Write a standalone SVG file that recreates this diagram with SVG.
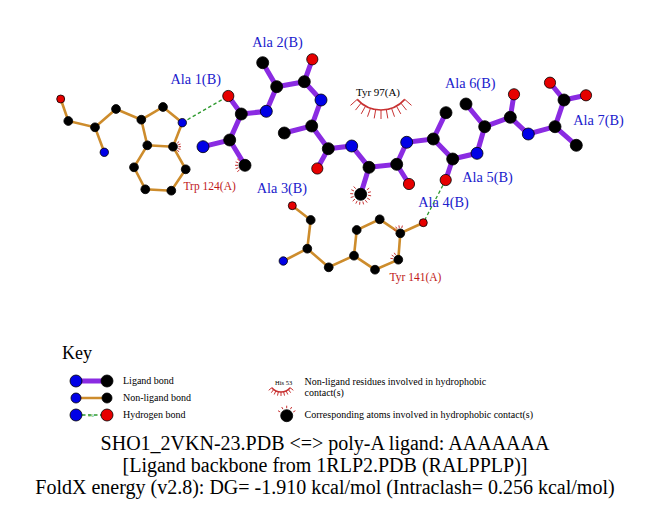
<svg xmlns="http://www.w3.org/2000/svg" width="651" height="511" viewBox="0 0 651 511">
<style>
text{font-family:"Liberation Serif","Times New Roman",serif}
.lb{stroke:#8a2be2;stroke-width:5;stroke-linecap:round;fill:none}
.nb{stroke:#cd8c2c;stroke-width:2.6;stroke-linecap:round;fill:none}
.hb{stroke:#2f9a2f;stroke-width:1.3;stroke-dasharray:3.5,2.5;fill:none}
.hp{stroke:#c83232;stroke-width:1;fill:none}
.hpa{stroke:#c83232;stroke-width:1.6;fill:none}
.C{fill:#000;stroke:#000;stroke-width:0.8}
.N{fill:#0000e6;stroke:#000;stroke-width:0.8}
.O{fill:#e60000;stroke:#000;stroke-width:0.8}
.res{fill:#2020cc;font-size:14.3px}
.nres{fill:#c01818;font-size:11.5px}
.key{fill:#000;font-size:10px}
.ttl{fill:#000;font-size:20px;text-anchor:middle}
</style>
<rect width="651" height="511" fill="#fff"/>
<g id="connectors">
<!-- ligand bonds -->
<path class="lb" d="M203,146.7 L229.7,140 L245,165.3 M229.7,140 L241.3,114 L228.3,96 M241.3,114 L266.3,111.3 L276.7,86.7 L262.7,62.7 M276.7,86.7 L304.3,81.7 L312.3,59.3 M304.3,81.7 L321,100 L311.7,126 L284.3,133 M311.7,126 L328.3,148.7 L317.3,168.5 M328.3,148.7 L351.7,146 L369,167.3 L360.7,194.3 M369,167.3 L396.7,164.3 L409,184 M396.7,164.3 L406.7,142.3 L433.3,139 L446,112.7 M433.3,139 L452.7,159 L445.7,180 M452.7,159 L477,153.3 L484.7,126.7 L466,104 M484.7,126.7 L510.3,117.3 L514,94.3 M510.3,117.3 L528.3,134 L555,126.7 L576.3,145.3 M555,126.7 L564,100 L550,82.7 M564,100 L586,95.3"/>
<!-- Trp 124 bonds -->
<path class="nb" d="M60.7,99 L68.3,121 L95,127.3 L104.3,152.3 M95,127.3 L116,109 L141.3,119.7 L163,107 L182.3,122.7 L173,146.7 L147.3,145.3 L141.3,119.7 M147.3,145.3 L134,167.3 L145.3,189.3 L171.3,190.7 L185.7,169.3 L173,146.7"/>
<!-- Tyr 141 bonds -->
<path class="nb" d="M292.3,205.7 L310.7,220 L307.3,248.7 L283.3,261 M307.3,248.7 L328.7,267.3 L354,255.7 L356.7,230 L379.7,219.3 L400.3,233.3 L423.3,222.7 M400.3,233.3 L398.3,259.7 L375,269.7 L354,255.7"/>
<!-- hydrogen bonds -->
<path class="hb" d="M182.3,122.7 L228.3,96"/>
<path class="hb" d="M445.7,180 L423.3,222.7"/>
</g>
<g id="res-tyr97">
<text x="356" y="96" font-size="10" textLength="44" lengthAdjust="spacingAndGlyphs" fill="#000">Tyr 97(A)</text>
<path class="hpa" d="M404.8,99.4 A32,32 0 0 1 357.2,99.4"/>
<path class="hp" d="M404.8,99.4L411.5,105.4M400.9,103.1L406.5,110.1M396.4,106L400.8,113.9M391.5,108.2L394.5,116.7M386.3,109.6L387.8,118.4M381,110L381,119M375.7,109.6L374.2,118.4M370.5,108.2L367.5,116.7M365.6,106L361.2,113.9M361.1,103.1L355.5,110.1M357.2,99.4L350.5,105.4"/>
</g>
<g id="res-trp124">
<path class="hp" d="M177.2,143.2L179.1,141.5M178.2,144.8L180.5,144M178.5,146.7L181,146.7M178.2,148.6L180.5,149.4M177.2,150.2L179.1,151.8"/>
<circle class="O" cx="60.7" cy="99" r="4"/>
<circle class="C" cx="68.3" cy="121" r="4.4"/>
<circle class="C" cx="95" cy="127.3" r="4.4"/>
<circle class="N" cx="104.3" cy="152.3" r="4.2"/>
<circle class="C" cx="116" cy="109" r="4.4"/>
<circle class="C" cx="141.3" cy="119.7" r="4.4"/>
<circle class="C" cx="163" cy="107" r="4.4"/>
<circle class="N" cx="182.3" cy="122.7" r="4.2"/>
<circle class="C" cx="173" cy="146.7" r="4.4"/>
<circle class="C" cx="147.3" cy="145.3" r="4.4"/>
<circle class="C" cx="134" cy="167.3" r="4.4"/>
<circle class="C" cx="145.3" cy="189.3" r="4.4"/>
<circle class="C" cx="171.3" cy="190.7" r="4.4"/>
<circle class="C" cx="185.7" cy="169.3" r="4.4"/>
<text class="nres" x="183.5" y="190">Trp 124(A)</text>
</g>
<g id="res-tyr141">
<path class="hp" d="M395.5,230.6L393.4,229.3M397.1,228.8L395.7,226.7M399.3,227.9L398.9,225.4M401.7,228L402.4,225.6M392.9,258.7L390.4,258.3M393.8,256.5L391.7,255.1M395.5,254.9L394.3,252.8"/>
<circle class="O" cx="292.3" cy="205.7" r="4"/>
<circle class="C" cx="310.7" cy="220" r="4.4"/>
<circle class="C" cx="307.3" cy="248.7" r="4.4"/>
<circle class="N" cx="283.3" cy="261" r="4.2"/>
<circle class="C" cx="328.7" cy="267.3" r="4.4"/>
<circle class="C" cx="354" cy="255.7" r="4.4"/>
<circle class="C" cx="356.7" cy="230" r="4.4"/>
<circle class="C" cx="379.7" cy="219.3" r="4.4"/>
<circle class="C" cx="400.3" cy="233.3" r="4.4"/>
<circle class="O" cx="423.3" cy="222.7" r="4"/>
<circle class="C" cx="398.3" cy="259.7" r="4.4"/>
<circle class="C" cx="375" cy="269.7" r="4.4"/>
<text class="nres" x="389.5" y="280.5">Tyr 141(A)</text>
</g>
<g id="ala1">
<path class="hp" d="M239.6,169.8L237.3,171.7M238.4,167.7L235.6,168.7M238,165.3L235,165.3M238.4,162.9L235.6,161.9M239.6,160.8L237.3,158.9"/>
<circle class="N" cx="203" cy="146.7" r="6"/>
<circle class="C" cx="229.7" cy="140" r="6"/>
<circle class="C" cx="245" cy="165.3" r="6"/>
<circle class="C" cx="241.3" cy="114" r="6"/>
<circle class="O" cx="228.3" cy="96" r="5.6"/>
<text class="res" x="170.5" y="84">Ala 1(B)</text>
</g>
<g id="ala2">
<circle class="N" cx="266.3" cy="111.3" r="6"/>
<circle class="C" cx="276.7" cy="86.7" r="6"/>
<circle class="C" cx="262.7" cy="62.7" r="6"/>
<circle class="C" cx="304.3" cy="81.7" r="6"/>
<circle class="O" cx="312.3" cy="59.3" r="5.6"/>
<text class="res" x="252.3" y="47">Ala 2(B)</text>
</g>
<g id="ala3">
<circle class="N" cx="321" cy="100" r="6"/>
<circle class="C" cx="311.7" cy="126" r="6"/>
<circle class="C" cx="284.3" cy="133" r="6"/>
<circle class="C" cx="328.3" cy="148.7" r="6"/>
<circle class="O" cx="317.3" cy="168.5" r="5.6"/>
<text class="res" x="256.7" y="192.5">Ala 3(B)</text>
</g>
<g id="ala4">
<path class="hp" d="M366.8,189.9L369.2,188.1M368,192.5L370.9,191.8M368.1,195.3L371.1,195.8M367.2,198.1L369.8,199.6M365.3,200.2L367.2,202.6M362.8,201.5L363.6,204.4M359.9,201.8L359.6,204.7M357.2,200.9L355.8,203.6M355,199.1L352.7,201.1M353.6,196.6L350.7,197.5M353.2,193.8L350.2,193.6M354,191L351.3,189.7M355.7,188.7L353.7,186.5"/>
<circle class="N" cx="351.7" cy="146" r="6"/>
<circle class="C" cx="369" cy="167.3" r="6"/>
<circle class="C" cx="360.7" cy="194.3" r="6"/>
<circle class="C" cx="396.7" cy="164.3" r="6"/>
<circle class="O" cx="409" cy="184" r="5.6"/>
<text class="res" x="418.3" y="207">Ala 4(B)</text>
</g>
<g id="ala5">
<circle class="N" cx="406.7" cy="142.3" r="6"/>
<circle class="C" cx="433.3" cy="139" r="6"/>
<circle class="C" cx="446" cy="112.7" r="6"/>
<circle class="C" cx="452.7" cy="159" r="6"/>
<circle class="O" cx="445.7" cy="180" r="5.6"/>
<text class="res" x="462.3" y="181.7">Ala 5(B)</text>
</g>
<g id="ala6">
<circle class="N" cx="477" cy="153.3" r="6"/>
<circle class="C" cx="484.7" cy="126.7" r="6"/>
<circle class="C" cx="466" cy="104" r="6"/>
<circle class="C" cx="510.3" cy="117.3" r="6"/>
<circle class="O" cx="514" cy="94.3" r="5.6"/>
<text class="res" x="445" y="88.3">Ala 6(B)</text>
</g>
<g id="ala7">
<circle class="N" cx="528.3" cy="134" r="6"/>
<circle class="C" cx="555" cy="126.7" r="6"/>
<circle class="C" cx="576.3" cy="145.3" r="6"/>
<circle class="C" cx="564" cy="100" r="6"/>
<circle class="O" cx="550" cy="82.7" r="5.6"/>
<circle class="O" cx="586" cy="95.3" r="5.6"/>
<text class="res" x="573.3" y="125">Ala 7(B)</text>
</g>
<g id="key">
<text x="62" y="359" font-size="18" fill="#000">Key</text>
<line class="lb" x1="76" y1="381" x2="107" y2="381"/>
<circle class="N" cx="76" cy="381" r="6"/>
<circle class="C" cx="107" cy="381" r="6"/>
<text class="key" x="123" y="384">Ligand bond</text>
<line class="nb" x1="76" y1="398" x2="107" y2="398"/>
<circle class="N" cx="76" cy="398" r="5"/>
<circle class="C" cx="107" cy="398" r="5"/>
<text class="key" x="123" y="401">Non-ligand bond</text>
<line class="hb" x1="76" y1="415" x2="107" y2="415"/>
<circle class="N" cx="76" cy="415" r="6"/>
<circle class="O" cx="107" cy="415" r="6"/>
<text x="88" y="416.5" font-size="4.5" fill="#2f9a2f">3.0</text>
<text class="key" x="123" y="418">Hydrogen bond</text>
<text x="275" y="385" font-size="6.5" fill="#000">His 53</text>
<path class="hpa" d="M290.2,387.7 A12,12 0 0 1 271.8,387.7"/>
<path class="hp" d="M290.2,387.7L293.3,390.3M288.3,389.5L290.7,392.7M286.1,390.9L287.8,394.5M283.6,391.7L284.5,395.6M281,392L281,396M278.4,391.7L277.5,395.6M275.9,390.9L274.2,394.5M273.7,389.5L271.3,392.7M271.8,387.7L268.7,390.3"/>
<text class="key" x="304.5" y="385">Non-ligand residues involved in hydrophobic</text>
<text class="key" x="304.5" y="396">contact(s)</text>
<path class="hp" d="M280.2,412L278,410.7M283,409.2L281.7,407M286.7,408.2L286.7,405.7M290.4,409.2L291.7,407M293.2,412L295.4,410.7"/>
<circle class="C" cx="286.7" cy="415.7" r="6"/>
<text class="key" x="304.5" y="418">Corresponding atoms involved in hydrophobic contact(s)</text>
</g>
<g id="title">
<text class="ttl" x="325" y="450">SHO1_2VKN-23.PDB &lt;=&gt; poly-A ligand: AAAAAAA</text>
<text class="ttl" x="325" y="472">[Ligand backbone from 1RLP2.PDB (RALPPLP)]</text>
<text class="ttl" x="325" y="494">FoldX energy (v2.8): DG= -1.910 kcal/mol (Intraclash= 0.256 kcal/mol)</text>
</g>
</svg>
